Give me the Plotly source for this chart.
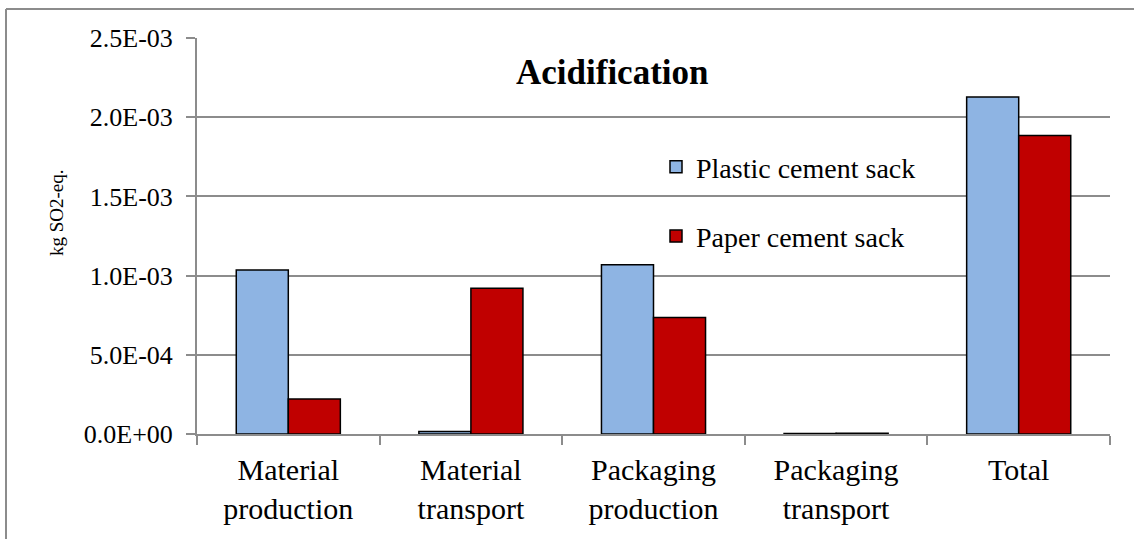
import plotly.graph_objects as go

categories = ["Material<br>production", "Material<br>transport", "Packaging<br>production",
              "Packaging<br>transport", "Total"]
plastic = [1.035e-3, 1.5e-5, 1.068e-3, 3e-6, 2.128e-3]
paper = [2.21e-4, 9.2e-4, 7.35e-4, 5e-6, 1.885e-3]
tick_vals = [0, 5e-4, 1e-3, 1.5e-3, 2e-3, 2.5e-3]
tick_text = ["0.0E+00", "5.0E-04", "1.0E-03", "1.5E-03", "2.0E-03", "2.5E-03"]

FONT = "Liberation Serif"

fig = go.Figure()
fig.add_trace(go.Bar(x=categories, y=plastic, name="Plastic cement sack",
                     marker=dict(color="#8EB4E3", line=dict(color="black", width=1.5)),
                     legendgroup="a"))
fig.add_trace(go.Bar(x=categories, y=paper, name="Paper cement sack",
                     marker=dict(color="#C00000", line=dict(color="black", width=1.5)),
                     legendgroup="b"))

W, H = 1134, 539
pw, ph = 913, 396
L, T = 197, 38
R, B = W - L - pw, H - T - ph


def px(x):
    return (x - L) / pw


def py(y):
    return (T + ph - y) / ph


fig.update_layout(
    width=W, height=H,
    margin=dict(l=L, r=R, t=T, b=B),
    paper_bgcolor="white", plot_bgcolor="white",
    barmode="group", bargap=0.43, bargroupgap=0,
    font=dict(family=FONT, color="black"),
    legend=dict(x=px(656), y=py(142), xanchor="left", yanchor="top",
                font=dict(size=28, family=FONT, color="black"), tracegroupgap=30,
                bgcolor="rgba(0,0,0,0)"),
    xaxis=dict(showline=True, linecolor="#8c8c8c", linewidth=2,
               ticks="outside", tickson="boundaries", ticklen=9, tickcolor="#8c8c8c",
               tickwidth=2, ticklabelstandoff=8,
               tickfont=dict(size=30, family=FONT, color="black")),
    yaxis=dict(range=[0, 2.5e-3], tickvals=tick_vals, ticktext=tick_text,
               showline=True, linecolor="#8c8c8c", linewidth=2,
               ticks="outside", ticklen=9, tickcolor="#8c8c8c", tickwidth=2,
               ticklabelstandoff=8,
               showgrid=True, gridcolor="#8c8c8c", gridwidth=1.5,
               tickfont=dict(size=26, family=FONT, color="black"), zeroline=False),
    annotations=[
        dict(text="<b>Acidification</b>", x=px(612), y=py(73), xref="paper", yref="paper",
             xanchor="center", yanchor="middle",
             showarrow=False, font=dict(size=35, family=FONT, color="black")),
        dict(text="kg SO2-eq.", x=px(56), y=py(213), xref="paper", yref="paper",
             xanchor="center", yanchor="middle",
             showarrow=False, textangle=-90, font=dict(size=19, family=FONT, color="black")),
    ],
    shapes=[
        dict(type="line", xref="paper", yref="paper", x0=px(6), x1=px(6),
             y0=py(9), y1=py(560), line=dict(color="#8c8c8c", width=2)),
        dict(type="line", xref="paper", yref="paper", x0=px(6), x1=px(1150),
             y0=py(9), y1=py(9), line=dict(color="#8c8c8c", width=2)),
    ],
)

fig.write_html("out.html", config={"displayModeBar": False},
               post_script="document.body.style.margin='0px';")
